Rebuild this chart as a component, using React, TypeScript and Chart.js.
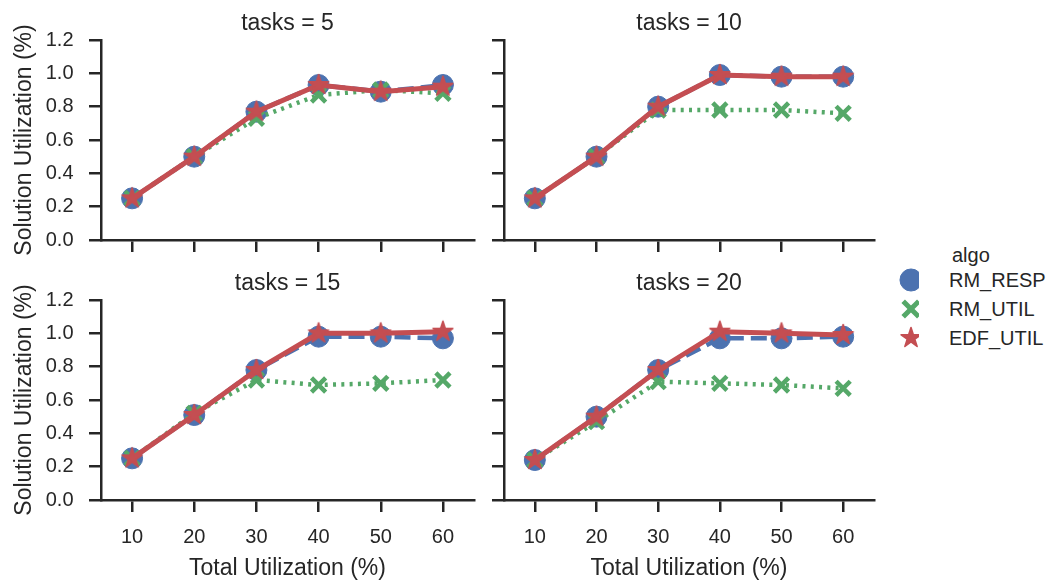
import React, { useEffect, useRef } from 'react';
import { Chart, registerables } from 'chart.js';

Chart.register(...registerables);

// ---------- data ----------
const X_LABELS = ['10', '20', '30', '40', '50', '60'];
const Y_TICKS = [0, 0.2, 0.4, 0.6, 0.8, 1.0, 1.2];
const ALGOS = ['RM_RESP', 'RM_UTIL', 'EDF_UTIL'];
const FACET_TITLES = ['tasks = 5', 'tasks = 10', 'tasks = 15', 'tasks = 20'];
const X_TITLE = 'Total Utilization (%)';
const Y_TITLE = 'Solution Utilization (%)';
const LEGEND_TITLE = 'algo';

const T5_RM_RESP = [0.25, 0.5, 0.77, 0.93, 0.89, 0.93];
const T5_RM_UTIL = [0.25, 0.5, 0.73, 0.87, 0.9, 0.88];
const T5_EDF_UTIL = [0.25, 0.5, 0.77, 0.93, 0.89, 0.92];

const T10_RM_RESP = [0.25, 0.5, 0.8, 0.99, 0.98, 0.98];
const T10_RM_UTIL = [0.25, 0.5, 0.78, 0.78, 0.78, 0.76];
const T10_EDF_UTIL = [0.25, 0.5, 0.8, 0.99, 0.98, 0.98];

const T15_RM_RESP = [0.25, 0.51, 0.78, 0.98, 0.98, 0.97];
const T15_RM_UTIL = [0.25, 0.52, 0.72, 0.69, 0.7, 0.72];
const T15_EDF_UTIL = [0.25, 0.51, 0.78, 1.0, 1.0, 1.01];

const T20_RM_RESP = [0.24, 0.5, 0.78, 0.97, 0.97, 0.98];
const T20_RM_UTIL = [0.24, 0.47, 0.71, 0.7, 0.69, 0.67];
const T20_EDF_UTIL = [0.24, 0.5, 0.78, 1.01, 1.0, 0.99];

const FACET_DATA = [
  [T5_RM_RESP, T5_RM_UTIL, T5_EDF_UTIL],
  [T10_RM_RESP, T10_RM_UTIL, T10_EDF_UTIL],
  [T15_RM_RESP, T15_RM_UTIL, T15_EDF_UTIL],
  [T20_RM_RESP, T20_RM_UTIL, T20_EDF_UTIL],
];

// ---------- style ----------
const BLUE = '#4C72B0';
const GREEN = '#55A868';
const RED = '#C44E52';
const INK = '#262626';
const FONT = '"Liberation Sans", Arial, Helvetica, sans-serif';

Chart.defaults.font.family = FONT;
Chart.defaults.color = INK;

function makeStar(): HTMLCanvasElement {
  const c = document.createElement('canvas');
  c.width = 26;
  c.height = 26;
  const ctx = c.getContext('2d')!;
  const R = 10.4;
  const r = R * 0.382;
  ctx.beginPath();
  for (let i = 0; i < 10; i++) {
    const rad = i % 2 === 0 ? R : r;
    const a = -Math.PI / 2 + (i * Math.PI) / 5;
    const px = 13 + rad * Math.cos(a);
    const py = 13 + rad * Math.sin(a);
    if (i === 0) ctx.moveTo(px, py);
    else ctx.lineTo(px, py);
  }
  ctx.closePath();
  ctx.fillStyle = RED;
  ctx.strokeStyle = RED;
  ctx.lineWidth = 1.6;
  ctx.lineJoin = 'round';
  ctx.fill();
  ctx.stroke();
  return c;
}

type PanelProps = {
  facet: number;
  left: number;
  top: number;
  width: number;
  height: number;
  yAxisWidth: number;
  xAxisHeight: number;
  padRight: number;
  showX: boolean;
  showY: boolean;
};

function Panel(p: PanelProps) {
  const ref = useRef<HTMLCanvasElement | null>(null);
  useEffect(() => {
    if (!ref.current) return;
    const star = makeStar();
    const [resp, util, edf] = FACET_DATA[p.facet];
    const chart = new Chart(ref.current, {
      type: 'line',
      data: {
        labels: X_LABELS,
        datasets: [
          {
            label: ALGOS[0],
            data: resp,
            borderColor: BLUE,
            backgroundColor: BLUE,
            borderWidth: 4.5,
            borderDash: [16, 7],
            tension: 0,
            fill: false,
            pointStyle: 'circle',
            pointRadius: 10.5,
            pointBackgroundColor: BLUE,
            pointBorderColor: BLUE,
            pointBorderWidth: 1,
            order: 3,
          },
          {
            label: ALGOS[1],
            data: util,
            borderColor: GREEN,
            backgroundColor: GREEN,
            borderWidth: 4.5,
            borderDash: [3, 5.3],
            tension: 0,
            fill: false,
            pointStyle: 'crossRot',
            pointRadius: 10,
            pointBackgroundColor: GREEN,
            pointBorderColor: GREEN,
            pointBorderWidth: 4.5,
            order: 2,
          },
          {
            label: ALGOS[2],
            data: edf,
            borderColor: RED,
            backgroundColor: RED,
            borderWidth: 5,
            tension: 0,
            fill: false,
            pointStyle: star as any,
            pointRadius: 10,
            order: 1,
          },
        ],
      },
      options: {
        animation: false,
        responsive: false,
        events: [],
        layout: { padding: { left: 0, right: p.padRight, top: 0, bottom: 0 } },
        plugins: {
          legend: { display: false },
          tooltip: { enabled: false },
          title: {
            display: true,
            fullSize: false,
            text: FACET_TITLES[p.facet],
            color: INK,
            font: { family: FONT, size: 23, weight: 'normal' as any },
            padding: { top: 9.5, bottom: 2.9 },
          },
        },
        scales: {
          x: {
            type: 'category',
            offset: true,
            grid: {
              display: true,
              offset: false,
              drawOnChartArea: false,
              drawTicks: true,
              tickLength: 12,
              lineWidth: 2.5,
              color: INK,
            },
            border: { display: true, color: INK, width: 2.5 },
            ticks: {
              display: p.showX,
              color: INK,
              font: { family: FONT, size: 20 },
              padding: 13.5,
              maxRotation: 0,
              autoSkip: false,
            },
            title: {
              display: p.showX,
              text: X_TITLE,
              color: INK,
              font: { family: FONT, size: 23, lineHeight: 1.0 },
              padding: { top: 0, bottom: 0 },
            },
            afterFit: (s: any) => {
              s.height = p.xAxisHeight;
              s.paddingLeft = 0;
              s.paddingRight = 0;
            },
          },
          y: {
            type: 'linear',
            min: 0,
            max: 1.2,
            afterBuildTicks: (s: any) => {
              s.ticks = Y_TICKS.map((v) => ({ value: v }));
            },
            grid: {
              display: true,
              drawOnChartArea: false,
              drawTicks: true,
              tickLength: 12,
              lineWidth: 2.5,
              color: INK,
            },
            border: { display: true, color: INK, width: 2.5 },
            ticks: {
              display: p.showY,
              color: INK,
              font: { family: FONT, size: 20 },
              padding: 15.5,
              callback: (v: any) => Number(v).toFixed(1),
            },
            title: {
              display: p.showY,
              text: Y_TITLE,
              color: INK,
              font: { family: FONT, size: 23 },
              padding: { top: 10.5, bottom: 0 },
            },
            afterFit: (s: any) => {
              s.width = p.yAxisWidth;
              s.paddingTop = 0;
              s.paddingBottom = 0;
            },
          },
        },
      } as any,
    });
    return () => chart.destroy();
  }, []);
  return (
    <canvas
      ref={ref}
      width={p.width}
      height={p.height}
      style={{ position: 'absolute', left: p.left, top: p.top, width: p.width, height: p.height, display: 'block' }}
    />
  );
}

function LegendMarkers() {
  const ref = useRef<HTMLCanvasElement | null>(null);
  useEffect(() => {
    if (!ref.current) return;
    const star = makeStar();
    const styles = [
      { color: BLUE, pointStyle: 'circle', lineWidth: 1 },
      { color: GREEN, pointStyle: 'crossRot', lineWidth: 5 },
      { color: RED, pointStyle: star, lineWidth: 1.5 },
    ];
    const chart = new Chart(ref.current, {
      type: 'line',
      data: {
        labels: [],
        datasets: ALGOS.map((a, i) => ({
          label: a,
          data: [],
          borderColor: styles[i].color,
          backgroundColor: styles[i].color,
        })),
      },
      options: {
        animation: false,
        responsive: false,
        events: [],
        layout: { padding: 0 },
        scales: { x: { display: false }, y: { display: false } },
        plugins: {
          tooltip: { enabled: false },
          legend: {
            display: true,
            position: 'left',
            align: 'start',
            labels: {
              usePointStyle: true,
              boxWidth: 16,
              boxHeight: 15.6,
              padding: 9,
              font: { family: FONT, size: 20 },
              generateLabels: (c: any) =>
                c.data.datasets.map((ds: any, i: number) => ({
                  text: '',
                  fillStyle: styles[i].color,
                  strokeStyle: styles[i].color,
                  lineWidth: styles[i].lineWidth,
                  lineDash: [],
                  pointStyle: styles[i].pointStyle,
                  hidden: false,
                  datasetIndex: i,
                })),
            },
          },
        },
      } as any,
    });
    return () => chart.destroy();
  }, []);
  return (
    <canvas
      ref={ref}
      width={50}
      height={110}
      style={{ position: 'absolute', left: 894, top: 261, width: 50, height: 110, display: 'block' }}
    />
  );
}

const textStyle: React.CSSProperties = {
  position: 'absolute',
  fontFamily: FONT,
  fontSize: 20,
  lineHeight: '24px',
  color: INK,
  whiteSpace: 'nowrap',
};

export default function App() {
  return (
    <div style={{ position: 'fixed', left: 0, top: 0, width: 1054, height: 580, background: '#ffffff', overflow: 'hidden' }}>
      <Panel facet={0} left={0} top={0} width={489} height={260} yAxisWidth={101} xAxisHeight={20} padRight={12} showX={false} showY={true} />
      <Panel facet={1} left={489} top={0} width={400} height={260} yAxisWidth={12} xAxisHeight={20} padRight={12} showX={false} showY={false} />
      <Panel facet={2} left={0} top={260} width={489} height={320} yAxisWidth={101} xAxisHeight={80} padRight={12} showX={true} showY={true} />
      <Panel facet={3} left={489} top={260} width={400} height={320} yAxisWidth={12} xAxisHeight={80} padRight={12} showX={true} showY={false} />
      <LegendMarkers />
      <div style={{ ...textStyle, left: 952, top: 242.6 }}>{LEGEND_TITLE}</div>
      <div style={{ ...textStyle, left: 949, top: 267.8 }}>{ALGOS[0]}</div>
      <div style={{ ...textStyle, left: 949, top: 297 }}>{ALGOS[1]}</div>
      <div style={{ ...textStyle, left: 949, top: 326 }}>{ALGOS[2]}</div>
    </div>
  );
}
